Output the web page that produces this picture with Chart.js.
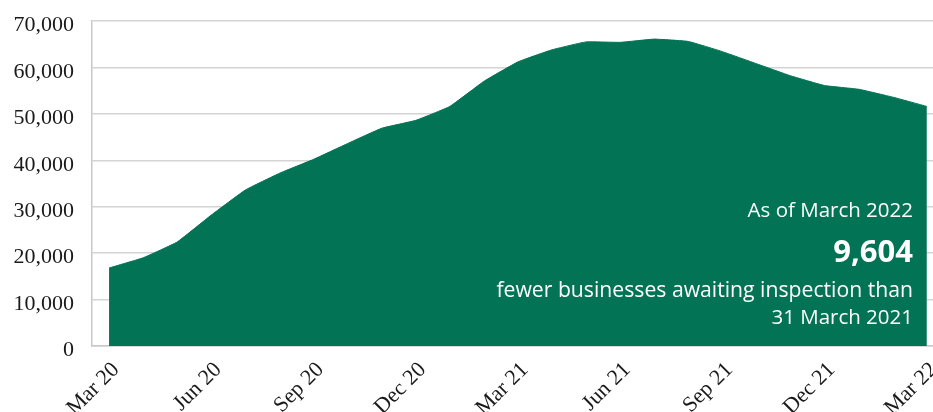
<!DOCTYPE html>
<html>
<head>
<meta charset="utf-8">
<script src="https://cdn.jsdelivr.net/npm/chart.js@4/dist/chart.umd.min.js"></script>
<style>
  html, body { margin: 0; padding: 0; background: #ffffff; }
  #wrap { width: 933px; height: 412px; position: relative; }
</style>
</head>
<body>
<div id="wrap"><canvas id="c"></canvas></div>
<script>
const months = ["Mar 20","Apr 20","May 20","Jun 20","Jul 20","Aug 20","Sep 20","Oct 20","Nov 20","Dec 20","Jan 21","Feb 21","Mar 21","Apr 21","May 21","Jun 21","Jul 21","Aug 21","Sep 21","Oct 21","Nov 21","Dec 21","Jan 22","Feb 22","Mar 22"];
const awaiting = [16800,19000,22400,28200,33600,37200,40200,43600,46900,48600,51600,57000,61200,63800,65500,65400,66100,65600,63400,60800,58200,56100,55300,53600,51600];
const yTicks = [0,10000,20000,30000,40000,50000,60000,70000];
const xTickIdx = [0,3,6,9,12,15,18,21,24];
const noteLines = ["As of March 2022","9,604","fewer businesses awaiting inspection than","31 March 2021"];

const GREEN = "#037355";

const notePlugin = {
  id: "note",
  afterDatasetsDraw(chart) {
    const ctx = chart.ctx;
    ctx.save();
    ctx.fillStyle = "#ffffff";
    ctx.textAlign = "right";
    ctx.textBaseline = "alphabetic";
    const xr = 913;
    ctx.font = "20.5px 'Open Sans'";
    ctx.fillText(noteLines[0], xr, 217);
    ctx.font = "bold 31px 'Open Sans'";
    ctx.fillText(noteLines[1], xr, 262);
    ctx.font = "21.2px 'Open Sans'";
    ctx.fillText(noteLines[2], xr, 297);
    ctx.font = "20.5px 'Open Sans'";
    ctx.fillText(noteLines[3], xr, 323.5);
    ctx.restore();
  }
};

new Chart(document.getElementById("c"), {
  type: "line",
  data: {
    datasets: [{
      data: awaiting.map((v, i) => ({ x: i, y: v })),
      borderColor: GREEN,
      backgroundColor: GREEN,
      borderWidth: 1,
      fill: "origin",
      pointRadius: 0,
      tension: 0.1
    }]
  },
  options: {
    responsive: true,
    maintainAspectRatio: false,
    animation: false,
    layout: { padding: { top: 21, right: 0, left: 0, bottom: 0 } },
    plugins: { legend: { display: false }, tooltip: { enabled: false } },
    scales: {
      x: {
        type: "linear",
        min: -0.5,
        max: 24.18,
        afterBuildTicks(scale) { scale.ticks = xTickIdx.map(v => ({ value: v })); },
        afterFit(scale) { scale.height = 66; scale.paddingLeft = 0; scale.paddingRight = 0; },
        grid: { display: false },
        border: { display: true, color: "#c8c8c8", width: 1.5 },
        ticks: {
          autoSkip: false,
          minRotation: 45,
          maxRotation: 45,
          padding: 3,
          labelOffset: 7,
          color: "#1a1a1a",
          font: { family: "'Liberation Serif'", size: 22 },
          callback: (v) => months[v]
        }
      },
      y: {
        min: 0,
        max: 70000,
        afterBuildTicks(scale) { scale.ticks = yTicks.map(v => ({ value: v })); },
        afterFit(scale) { scale.width = 92; scale.paddingTop = 0; scale.paddingBottom = 0; },
        grid: { color: "#d4d4d4", lineWidth: 1.5, drawTicks: false },
        border: { display: true, color: "#c8c8c8", width: 1.5 },
        ticks: {
          padding: 18,
          labelOffset: 4.5,
          color: "#1a1a1a",
          font: { family: "'Liberation Serif'", size: 22 },
          callback: (v) => v.toLocaleString("en-US")
        }
      }
    }
  },
  plugins: [notePlugin]
});
</script>
</body>
</html>
